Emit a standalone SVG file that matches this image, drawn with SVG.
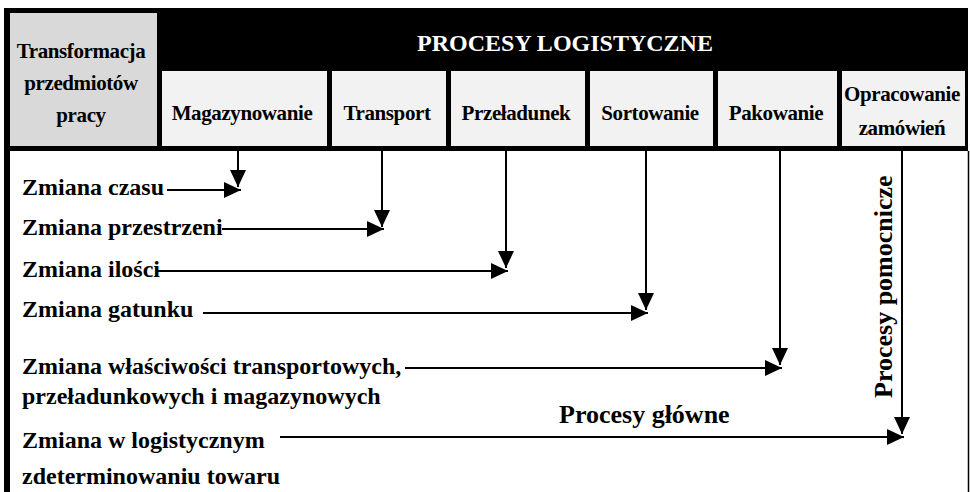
<svg xmlns="http://www.w3.org/2000/svg" width="970" height="492" viewBox="0 0 970 492">
<style>
.hd{font-family:"Liberation Serif","Times New Roman",serif;font-weight:bold;font-size:21px;letter-spacing:-0.4px;fill:#000;text-anchor:middle}
.ttl{font-family:"Liberation Serif","Times New Roman",serif;font-weight:bold;font-size:24px;fill:#fff;text-anchor:middle}
.bd{font-family:"Liberation Serif","Times New Roman",serif;font-weight:bold;font-size:24px;fill:#000}
.big{font-family:"Liberation Serif","Times New Roman",serif;font-weight:bold;font-size:26px;fill:#000}
.cell{fill:#f2f2f2}
.ln{stroke:#000;stroke-width:2;fill:none}
</style>
<defs>
<marker id="ah" markerUnits="userSpaceOnUse" markerWidth="20" markerHeight="20" refX="17" refY="8" orient="auto" overflow="visible">
<path d="M0,0 L17,8 L0,16 z" fill="#000"/>
</marker>
</defs>
<rect width="970" height="492" fill="#fff"/>
<g id="frame">
<rect x="4" y="8" width="964" height="143" fill="#000"/>
<rect x="4" y="151" width="6" height="341" fill="#000"/>
<line x1="968.5" y1="151" x2="968.5" y2="492" stroke="#000" stroke-width="1.5"/>
</g>
<g id="transformacja">
<rect x="10" y="13" width="147" height="133" fill="#d9d9d9"/>
<text class="hd" x="81" y="58">Transformacja</text>
<text class="hd" x="81" y="90">przedmiotów</text>
<text class="hd" x="81" y="122">pracy</text>
</g>
<g id="procesy-logistyczne">
<text class="ttl" x="565" y="51">PROCESY LOGISTYCZNE</text>
</g>
<g id="magazynowanie">
<rect class="cell" x="162" y="71" width="165" height="75"/>
<text class="hd" x="242" y="120">Magazynowanie</text>
</g>
<g id="transport">
<rect class="cell" x="332" y="71" width="114" height="75"/>
<text class="hd" x="387" y="120">Transport</text>
</g>
<g id="przeladunek">
<rect class="cell" x="451" y="71" width="134" height="75"/>
<text class="hd" x="516" y="120">Przeładunek</text>
</g>
<g id="sortowanie">
<rect class="cell" x="590" y="71" width="123" height="75"/>
<text class="hd" x="650" y="120">Sortowanie</text>
</g>
<g id="pakowanie">
<rect class="cell" x="718" y="71" width="119" height="75"/>
<text class="hd" x="776" y="120">Pakowanie</text>
</g>
<g id="opracowanie">
<rect class="cell" x="842" y="71" width="123" height="75"/>
<text class="hd" x="902" y="101">Opracowanie</text>
<text class="hd" x="902" y="135">zamówień</text>
</g>
<g id="zmiana-czasu"><text class="bd" x="22" y="195">Zmiana czasu</text></g>
<g id="zmiana-przestrzeni"><text class="bd" x="22" y="235">Zmiana przestrzeni</text></g>
<g id="zmiana-ilosci"><text class="bd" x="22" y="277">Zmiana ilości</text></g>
<g id="zmiana-gatunku"><text class="bd" x="22" y="317">Zmiana gatunku</text></g>
<g id="zmiana-wlasciwosci">
<text class="bd" x="22" y="374">Zmiana właściwości transportowych,</text>
<text class="bd" x="22" y="404">przeładunkowych i magazynowych</text>
</g>
<g id="zmiana-logistyczna">
<text class="bd" x="22" y="448">Zmiana w logistycznym</text>
<text class="bd" x="22" y="484">zdeterminowaniu towaru</text>
</g>
<g id="procesy-glowne"><text class="big" x="559" y="423">Procesy główne</text></g>
<g id="procesy-pomocnicze"><text class="big" transform="translate(892,398) rotate(-90)">Procesy pomocnicze</text></g>
<g id="connectors">
<line class="ln" x1="238" y1="151" x2="238" y2="187" marker-end="url(#ah)"/>
<line class="ln" x1="167" y1="190" x2="241" y2="190" marker-end="url(#ah)"/>
<line class="ln" x1="382" y1="151" x2="382" y2="227" marker-end="url(#ah)"/>
<line class="ln" x1="222" y1="229" x2="384" y2="229" marker-end="url(#ah)"/>
<line class="ln" x1="506" y1="151" x2="506" y2="268" marker-end="url(#ah)"/>
<line class="ln" x1="157" y1="271" x2="508" y2="271" marker-end="url(#ah)"/>
<line class="ln" x1="646" y1="151" x2="646" y2="310" marker-end="url(#ah)"/>
<line class="ln" x1="203" y1="313" x2="648" y2="313" marker-end="url(#ah)"/>
<line class="ln" x1="780" y1="151" x2="780" y2="365" marker-end="url(#ah)"/>
<line class="ln" x1="405" y1="368" x2="782" y2="368" marker-end="url(#ah)"/>
<line class="ln" x1="902" y1="151" x2="902" y2="434" marker-end="url(#ah)"/>
<line class="ln" x1="280" y1="437" x2="904" y2="437" marker-end="url(#ah)"/>
</g>
</svg>
